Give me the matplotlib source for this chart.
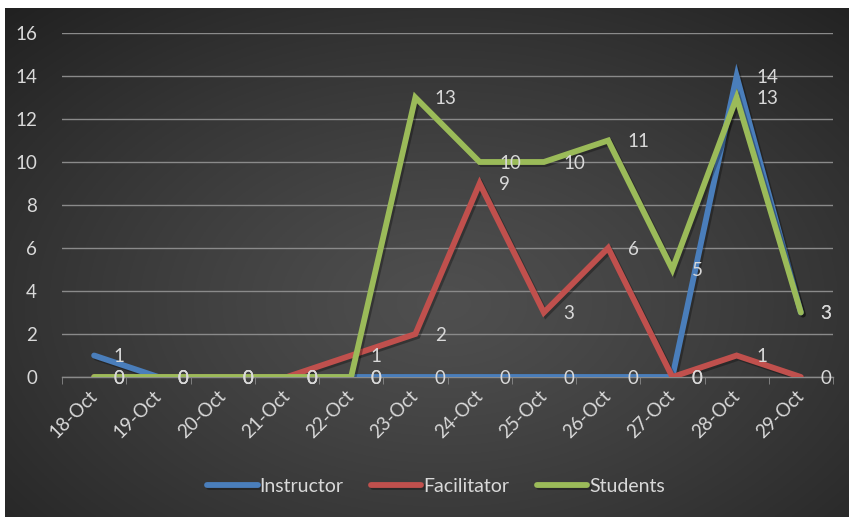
import numpy as np
import matplotlib
matplotlib.use("Agg")
import matplotlib.pyplot as plt
import matplotlib.patheffects as pe

# ==== DATA ====
dates = ["18-Oct", "19-Oct", "20-Oct", "21-Oct", "22-Oct", "23-Oct",
         "24-Oct", "25-Oct", "26-Oct", "27-Oct", "28-Oct", "29-Oct"]
instructor = [1, 0, 0, 0, 0, 0, 0, 0, 0, 0, 14, 3]
facilitator = [0, 0, 0, 0, 1, 2, 9, 3, 6, 0, 1, 0]
students = [0, 0, 0, 0, 0, 13, 10, 10, 11, 5, 13, 3]

series = [("Instructor", instructor, "#4a7ebb"),
          ("Facilitator", facilitator, "#c0504d"),
          ("Students", students, "#9bbb59")]

plt.rcParams["font.family"] = ["Lato", "DejaVu Sans"]
txt_color = "#d9d9d9"
grid_color = "#8a8a8a"

fig = plt.figure(figsize=(8.49, 5.17), dpi=100)
fig.patch.set_facecolor("white")

# ==== NỀN GRADIENT ====
bg = fig.add_axes([5 / 849, 0, 844 / 849, 509 / 517], zorder=-10)
yy, xx = np.mgrid[0:1:300j, 0:1:500j]
r = np.sqrt(((xx - 0.52) / 0.75) ** 2 + ((yy - 0.42) / 0.8) ** 2)
r = np.clip(r, 0, 1)
shade = 0.31 - 0.18 * r ** 1.2
bg.imshow(np.dstack([shade, shade, shade]), aspect="auto",
          extent=[0, 1, 0, 1], origin="lower")
bg.axis("off")

# ==== BIỂU ĐỒ ====
ax = fig.add_axes([62 / 849, 140 / 517, 771 / 849, 344 / 517])
ax.set_facecolor("none")
x = np.arange(len(dates))

for name, vals, col in series:
    ax.plot(x, vals, color=col, linewidth=4.2, label=name,
            solid_capstyle="round", solid_joinstyle="miter", zorder=3,
            path_effects=[pe.SimpleLineShadow(offset=(1.5, -1.5), shadow_color="black", alpha=0.3),
                          pe.Normal()])
    for xi, v in zip(x, vals):
        ax.annotate(str(v), (xi, v), xytext=(14, -1), textcoords="offset points",
                    ha="left", va="center", color=txt_color, fontsize=13.5, zorder=5)

ax.set_xlim(-0.5, len(dates) - 0.5)
ax.set_ylim(0, 16)
ax.set_yticks(range(0, 17, 2))
ax.set_xticks(x)
ax.set_xticklabels(dates, rotation=45, ha="right", va="center",
                   rotation_mode="anchor", color=txt_color, fontsize=13.5)
ax.set_xticks(np.arange(-0.5, len(dates), 1), minor=True)
ax.tick_params(axis="x", which="major", length=0, pad=12)
ax.tick_params(axis="x", which="minor", length=5, color=grid_color, direction="out")
ax.tick_params(axis="y", length=0, pad=18, labelcolor=txt_color, labelsize=13.5)

ax.grid(True, axis="y", color=grid_color, linewidth=1.0, zorder=0)
for s in ["top", "right", "left"]:
    ax.spines[s].set_visible(False)
ax.spines["bottom"].set_color(grid_color)
ax.spines["bottom"].set_linewidth(1.0)

leg = fig.legend(loc="center", bbox_to_anchor=(436 / 849, 1 - 486 / 517), ncol=3,
                 frameon=False, fontsize=14, handlelength=2.6, columnspacing=1.4,
                 handletextpad=0.1)
for t in leg.get_texts():
    t.set_color(txt_color)

plt.savefig("out.png", dpi=100)
plt.close(fig)
